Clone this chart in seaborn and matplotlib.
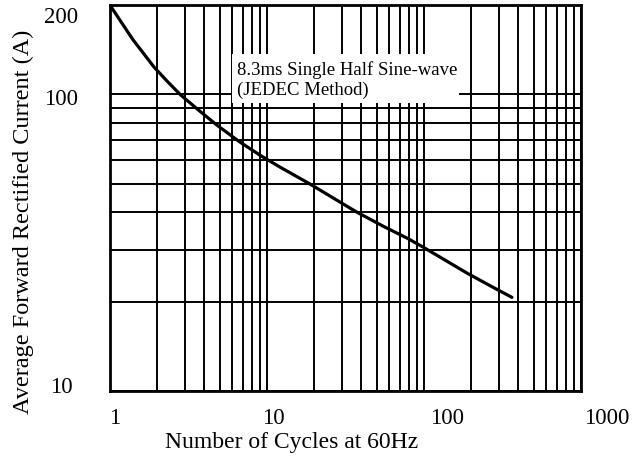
import numpy as np
import pandas as pd
import seaborn as sns
import matplotlib.pyplot as plt
from matplotlib.patches import Rectangle
from matplotlib.transforms import ScaledTranslation

# Surge current curve
cycles = [1, 1.4, 1.91, 2.31, 2.83, 3.74, 4.8, 6.73, 9.03, 12.1, 18.8, 27.9,
          37.4, 56.5, 78, 98.6, 188, 275, 364]
current = [200, 153, 123.6, 110.9, 99.4, 87.8, 78.8, 69.1, 62.4, 56.9, 49.9, 44.0,
           40.1, 35.7, 32.8, 30.6, 25.0, 22.4, 20.7]

x_ticks = [1, 10, 100, 1000]
x_tick_labels = ['1', '10', '100', '1000']
y_ticks = [10, 100, 200]
y_tick_labels = ['10', '100', '200']

sns.set_theme(style='white')
plt.rcParams['font.family'] = ['Liberation Serif', 'DejaVu Serif']
plt.rcParams['text.color'] = 'black'
plt.rcParams['axes.labelcolor'] = 'black'
plt.rcParams['xtick.color'] = 'black'
plt.rcParams['ytick.color'] = 'black'

fig = plt.figure(figsize=(6.39, 4.58), dpi=100)
ax = fig.add_axes([0.172, 0.146, 0.737, 0.843])

df = pd.DataFrame({'cycles': cycles, 'current': current})
sns.lineplot(data=df, x='cycles', y='current', ax=ax, color='black', lw=2.3, zorder=3)

ax.set_xscale('log')
ax.set_yscale('log')
ax.set_xlim(1, 1000)
ax.set_ylim(10, 200)

ax.set_xticks(x_ticks)
ax.set_xticklabels(x_tick_labels)
ax.set_yticks(y_ticks)
ax.set_yticklabels(y_tick_labels)
ax.tick_params(which='both', length=0, labelsize=16.5)
ax.tick_params(axis='x', pad=12)
ax.tick_params(axis='y', pad=35)
for lab in ax.get_yticklabels():
    lab.set_horizontalalignment('center')

# the datasheet labels sit a little off the grid lines
x_shift = [5, 6, 23, 26]
y_shift = [6, -3, -10]
for lab, dx in zip(ax.get_xticklabels(), x_shift):
    lab.set_transform(lab.get_transform() + ScaledTranslation(dx / 100, 0, fig.dpi_scale_trans))
for lab, dy in zip(ax.get_yticklabels(), y_shift):
    lab.set_transform(lab.get_transform() + ScaledTranslation(0, dy / 100, fig.dpi_scale_trans))

ax.grid(True, which='both', color='black', lw=1.4)
for s in ax.spines.values():
    s.set_color('black')
    s.set_linewidth(2)

# white patch behind the note
ax.add_patch(Rectangle((0.259, 0.746), 0.482, 0.127, transform=ax.transAxes,
                       facecolor='white', edgecolor='none', zorder=1.5))
ax.text(0.270, 0.806, '8.3ms Single Half Sine-wave\n(JEDEC Method)',
        transform=ax.transAxes, fontsize=13.5, va='center', ha='left',
        linespacing=1.15, zorder=4)

ax.set_xlabel('Number of Cycles at 60Hz', fontsize=17)
ax.set_ylabel('Average Forward Rectified Current (A)', fontsize=17.5)
ax.xaxis.set_label_coords(0.386, -0.105)
ax.yaxis.set_label_coords(-0.162, 0.439)

plt.savefig('out.png', dpi=100)
